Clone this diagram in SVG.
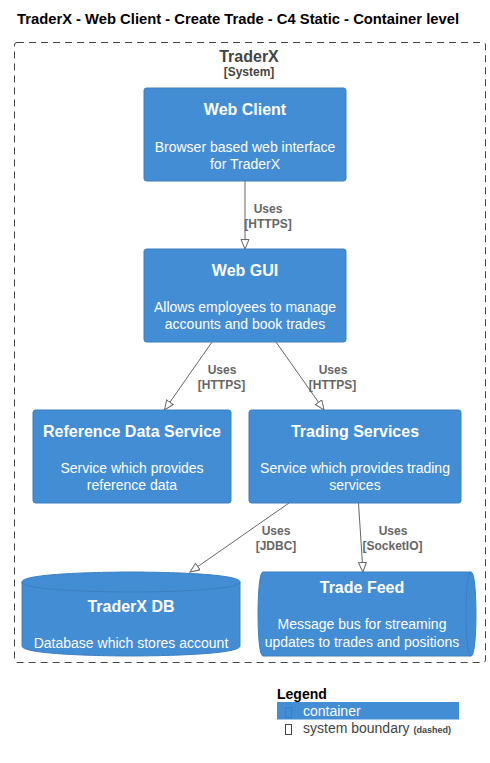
<svg xmlns="http://www.w3.org/2000/svg" width="490" height="763" viewBox="0 0 490 763">
<style>
text{font-family:"Liberation Sans",Arial,sans-serif}
.node{fill:#438DD5;stroke:#3C7FC0;stroke-width:1}
.nt{fill:#FFFFFF;font-size:16px;font-weight:bold;text-anchor:middle}
.nd{fill:#FFFFFF;font-size:14px;text-anchor:middle}
.cl{fill:#666666;font-size:12px;font-weight:bold;text-anchor:middle}
.conn{stroke:#666666;stroke-width:1;fill:none;marker-end:url(#arr)}
</style>
<defs>
<marker id="arr" markerWidth="12" markerHeight="10" refX="10" refY="4.5" orient="auto" markerUnits="userSpaceOnUse">
<path d="M0.5,0.5 L10,4.5 L0.5,8.5 Z" fill="#FFFFFF" stroke="#666666" stroke-width="1"/>
</marker>
</defs>
<rect width="490" height="763" fill="#FFFFFF"/>
<text x="17" y="24" font-size="14" font-weight="bold" fill="#000000" textLength="442" lengthAdjust="spacingAndGlyphs">TraderX - Web Client - Create Trade - C4 Static - Container level</text>
<g id="boundary">
<rect x="14.5" y="42.5" width="471" height="620" rx="2.5" fill="none" stroke="#444444" stroke-width="1" stroke-dasharray="7,5"/>
<text x="249" y="62" font-size="16" font-weight="bold" fill="#444444" text-anchor="middle">TraderX</text>
<text x="249" y="76" font-size="12" font-weight="bold" fill="#444444" text-anchor="middle">[System]</text>
</g>
<g id="connectors">
<line class="conn" x1="245" y1="181" x2="245" y2="249"/>
<text class="cl" x="268" y="213">Uses</text>
<text class="cl" x="268" y="228">[HTTPS]</text>
<line class="conn" x1="212" y1="342" x2="164.5" y2="410"/>
<text class="cl" x="222" y="374">Uses</text>
<text class="cl" x="221.5" y="389">[HTTPS]</text>
<line class="conn" x1="276" y1="342" x2="324" y2="410"/>
<text class="cl" x="333" y="374">Uses</text>
<text class="cl" x="332.5" y="389">[HTTPS]</text>
<line class="conn" x1="289" y1="503" x2="190" y2="572"/>
<text class="cl" x="276" y="534.5">Uses</text>
<text class="cl" x="276" y="550">[JDBC]</text>
<line class="conn" x1="358.5" y1="503" x2="363" y2="572"/>
<text class="cl" x="393" y="534.5">Uses</text>
<text class="cl" x="392.5" y="550">[SocketIO]</text>
</g>
<g id="web_client">
<rect class="node" x="144" y="88" width="202" height="93" rx="2.5"/>
<text class="nt" x="245" y="115">Web Client</text>
<text class="nd" x="245" y="152">Browser based web interface</text>
<text class="nd" x="245" y="169">for TraderX</text>
</g>
<g id="web_gui">
<rect class="node" x="144" y="249" width="202" height="93" rx="2.5"/>
<text class="nt" x="245" y="276">Web GUI</text>
<text class="nd" x="245" y="312">Allows employees to manage</text>
<text class="nd" x="245" y="329">accounts and book trades</text>
</g>
<g id="reference_data_service">
<rect class="node" x="33" y="410" width="198" height="93" rx="2.5"/>
<text class="nt" x="132" y="437">Reference Data Service</text>
<text class="nd" x="132" y="473">Service which provides</text>
<text class="nd" x="132" y="490">reference data</text>
</g>
<g id="trading_services">
<rect class="node" x="249" y="410" width="212" height="93" rx="2.5"/>
<text class="nt" x="355" y="437">Trading Services</text>
<text class="nd" x="355" y="473">Service which provides trading</text>
<text class="nd" x="355" y="490">services</text>
</g>
<g id="traderx_db">
<path class="node" d="M22,582 C22,572 131,572 131,572 C131,572 240,572 240,582 L240,646 C240,656 131,656 131,656 C131,656 22,656 22,646 Z"/>
<path d="M22,582 C22,592 131,592 131,592 C131,592 240,592 240,582" fill="none" stroke="#3C7FC0" stroke-width="1"/>
<text class="nt" x="131" y="612">TraderX DB</text>
<text class="nd" x="131" y="648">Database which stores account</text>
</g>
<g id="trade_feed">
<path class="node" d="M263,572 L471,572 C476,572 476,614 476,614 C476,614 476,656 471,656 L263,656 C258,656 258,614 258,614 C258,614 258,572 263,572 Z"/>
<path d="M471,572 C466,572 466,614 466,614 C466,614 466,656 471,656" fill="none" stroke="#3C7FC0" stroke-width="1"/>
<text class="nt" x="362" y="593">Trade Feed</text>
<text class="nd" x="362" y="629">Message bus for streaming</text>
<text class="nd" x="362" y="646.5">updates to trades and positions</text>
</g>
<g id="legend">
<text x="277" y="698.5" font-size="14" font-weight="bold" fill="#000000">Legend</text>
<rect x="277" y="702" width="182" height="17.5" fill="#438DD5"/>
<rect x="285.5" y="707.5" width="6" height="10" fill="none" stroke="#3C7FC0" stroke-width="1"/>
<text x="303" y="716" font-size="14" fill="#FFFFFF">container</text>
<rect x="285.5" y="724.5" width="6" height="10" fill="none" stroke="#444444" stroke-width="1"/>
<text x="303" y="733" font-size="14" fill="#444444">system boundary <tspan font-size="9" font-weight="bold">(dashed)</tspan></text>
</g>
</svg>
